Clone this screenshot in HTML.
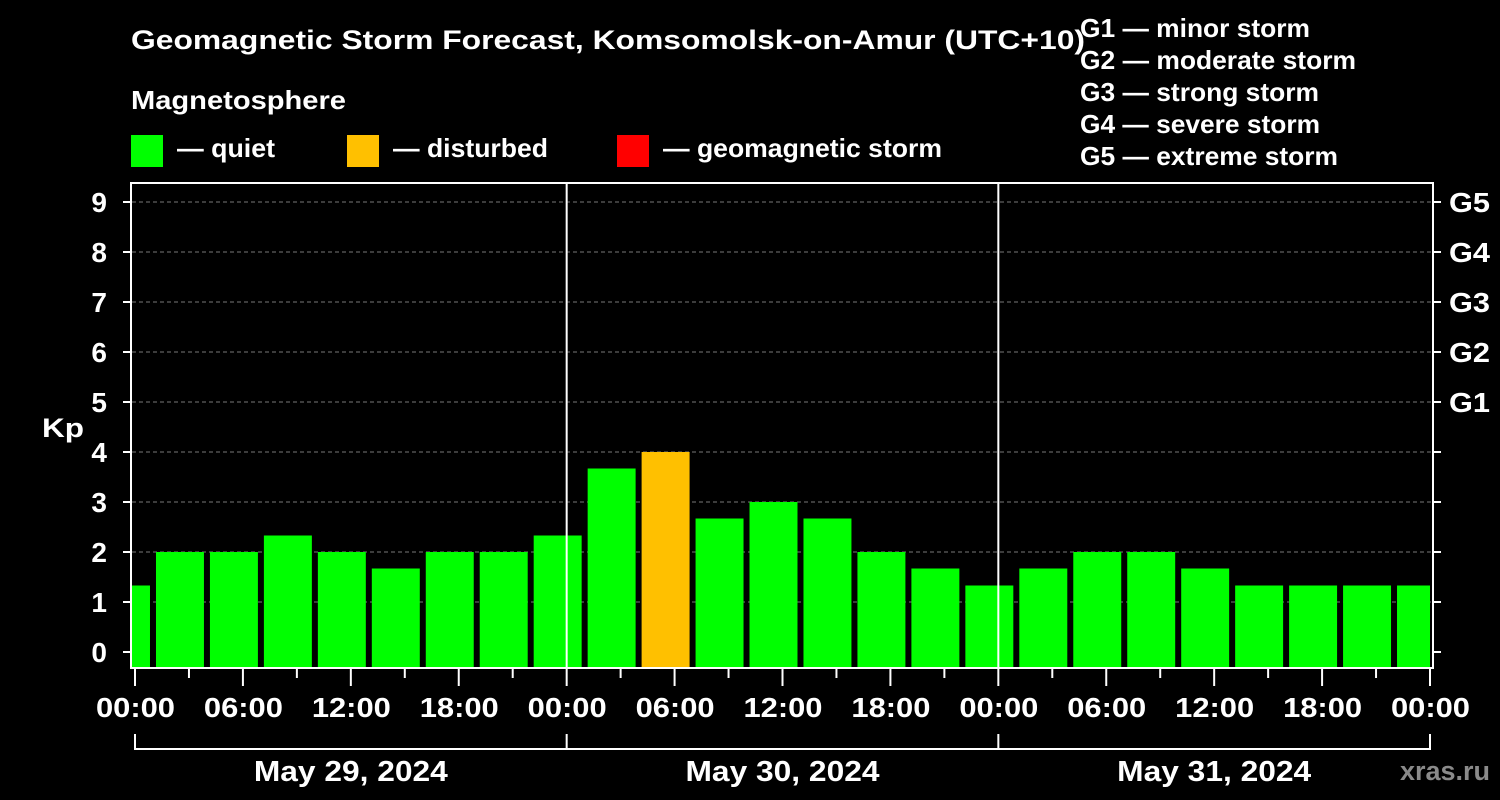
<!DOCTYPE html>
<html><head><meta charset="utf-8"><style>
html,body{margin:0;padding:0;background:#000;width:1500px;height:800px;overflow:hidden}
svg text{font-family:"Liberation Sans",sans-serif;font-weight:bold;fill:#fff}
</style></head><body>
<svg id="chart" width="1500" height="800">
<text x="131" y="49" font-size="27" textLength="954" lengthAdjust="spacingAndGlyphs">Geomagnetic Storm Forecast, Komsomolsk-on-Amur (UTC+10)</text>
<text x="131" y="109" font-size="26" textLength="215" lengthAdjust="spacingAndGlyphs">Magnetosphere</text>
<rect x="131" y="135" width="32" height="32" fill="#00ff00"/>
<text x="177" y="157" font-size="26" textLength="98" lengthAdjust="spacingAndGlyphs">— quiet</text>
<rect x="347" y="135" width="32" height="32" fill="#ffc000"/>
<text x="393" y="157" font-size="26" textLength="155" lengthAdjust="spacingAndGlyphs">— disturbed</text>
<rect x="617" y="135" width="32" height="32" fill="#ff0000"/>
<text x="663" y="157" font-size="26" textLength="279" lengthAdjust="spacingAndGlyphs">— geomagnetic storm</text>
<g font-size="26">
<text x="1080" y="37" textLength="230" lengthAdjust="spacingAndGlyphs">G1 — minor storm</text>
<text x="1080" y="69" textLength="276" lengthAdjust="spacingAndGlyphs">G2 — moderate storm</text>
<text x="1080" y="101" textLength="239" lengthAdjust="spacingAndGlyphs">G3 — strong storm</text>
<text x="1080" y="133" textLength="240" lengthAdjust="spacingAndGlyphs">G4 — severe storm</text>
<text x="1080" y="165" textLength="258" lengthAdjust="spacingAndGlyphs">G5 — extreme storm</text>
</g>
<text x="42" y="437" font-size="27" textLength="42" lengthAdjust="spacingAndGlyphs">Kp</text>
<text x="1490" y="780" font-size="27" style="fill:#8a8a8a" text-anchor="end">xras.ru</text>
<defs><clipPath id="pc"><rect x="132" y="184" width="1298" height="483"/></clipPath></defs>
<g id="grid"></g><g id="bars" clip-path="url(#pc)"></g><g id="axes"></g>
</svg>
<script>
const kpValues=[1.33,2,2,2.33,2,1.67,2,2,2.33,3.67,4,2.67,3,2.67,2,1.67,1.33,1.67,2,2,1.67,1.33,1.33,1.33,1.33];
const barCenterHours=[-0.5,2.5,5.5,8.5,11.5,14.5,17.5,20.5,23.5,26.5,29.5,32.5,35.5,38.5,41.5,44.5,47.5,50.5,53.5,56.5,59.5,62.5,65.5,68.5,71.5];
const yTicks=[0,1,2,3,4,5,6,7,8,9];
const gLabels=["G1","G2","G3","G4","G5"];
const timeLabels=["00:00","06:00","12:00","18:00","00:00","06:00","12:00","18:00","00:00","06:00","12:00","18:00","00:00"];
const dateLabels=["May 29, 2024","May 30, 2024","May 31, 2024"];
const NS="http://www.w3.org/2000/svg";
const X=h=>135+h*(1430-135)/72;
const Y=v=>652-v*50;
function mk(tag,attrs,parent,txt){const e=document.createElementNS(NS,tag);for(const k in attrs)e.setAttribute(k,attrs[k]);if(txt!==undefined)e.textContent=txt;parent.appendChild(e);return e;}
const grid=document.getElementById('grid'),bars=document.getElementById('bars'),axes=document.getElementById('axes');
yTicks.forEach(v=>{if(v>0){const l=mk('line',{x1:132,x2:1432,y1:Y(v),y2:Y(v),stroke:'#777','stroke-dasharray':'4,3'},grid);

}
const t=mk('line',{x1:123,x2:131,y1:Y(v),y2:Y(v),stroke:'#fff','stroke-width':2},axes);


const t2=mk('line',{x1:1433,x2:1441,y1:Y(v),y2:Y(v),stroke:'#fff','stroke-width':2},axes);


const lb=mk('text',{x:107,y:Y(v)+10,'font-size':28,'text-anchor':'end'},axes,String(v));

});
gLabels.forEach((g,i)=>{const lb=mk('text',{x:1449,y:Y(5+i)+10,'font-size':28,textLength:41,lengthAdjust:'spacingAndGlyphs'},axes,g);

});
const barW=48/18;
kpValues.forEach((v,i)=>{const c=barCenterHours[i];const x0=X(c-barW/2),x1=X(c+barW/2);
const r=mk('rect',{x:x0,y:Y(v),width:x1-x0,height:667-Y(v),fill:v>=5?'#ff0000':(v>=4?'#ffc000':'#00ff00')},bars);

});
[24,48].forEach(h=>{const l=mk('line',{x1:X(h),x2:X(h),y1:183,y2:668,stroke:'#fff','stroke-width':2},axes);

});
const fr=mk('rect',{x:131,y:183,width:1302,height:485,fill:'none',stroke:'#fff','stroke-width':2},axes);


for(let h=0;h<=72;h+=3){const major=h%6===0;const t=mk('line',{x1:X(h),x2:X(h),y1:669,y2:major?686:678,stroke:'#fff','stroke-width':2},axes);

}
timeLabels.forEach((s,i)=>{const lb=mk('text',{x:X(i*6)-39,y:717,'font-size':28,textLength:79,lengthAdjust:'spacingAndGlyphs'},axes,s);

});
const br=mk('path',{d:`M${X(0)},734V749H${X(72)}V734M${X(24)},734V749M${X(48)},734V749`,fill:'none',stroke:'#fff','stroke-width':2},axes);


dateLabels.forEach((s,i)=>{const lb=mk('text',{x:X(i*24+12)-97,y:781,'font-size':29,textLength:194,lengthAdjust:'spacingAndGlyphs'},axes,s);

});
</script>
</body></html>
